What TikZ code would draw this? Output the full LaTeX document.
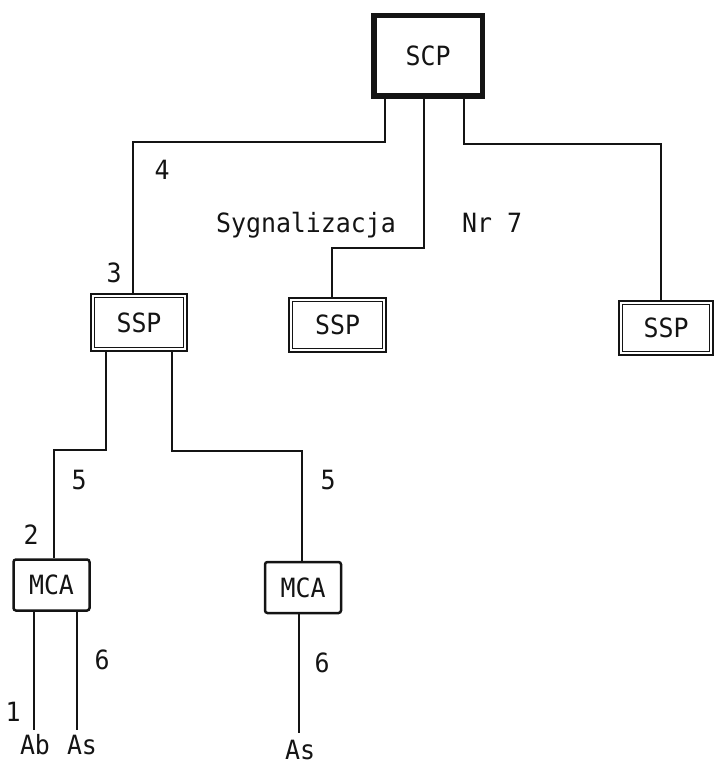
\documentclass[tikz,border=0pt]{standalone}
\usepackage{fontspec}
\setmonofont[FakeStretch=0.94]{DejaVu Sans Mono}
\usepackage{tikz}
\usetikzlibrary{positioning,calc}
\definecolor{mInk}{HTML}{141414}
\tikzset{
 unit/.style={draw=mInk, inner sep=0pt, font=\ttfamily\fontsize{26.5}{30}\selectfont, text=mInk},
 scpbox/.style={unit, line width=5.5pt, minimum width=108.5pt, minimum height=80.5pt},
 sspbox/.style={unit, double=white, line width=1.7pt, double distance=2pt, minimum width=92.6pt, minimum height=53.6pt},
 mcabox/.style={unit, line width=2.5pt, rounded corners=2.5pt, minimum width=76pt, minimum height=51pt},
 link/.style={draw=mInk, line width=2pt},
 tag/.style={inner sep=0pt, anchor=base, font=\ttfamily\fontsize{26.5}{30}\selectfont, text=mInk},
}
\newcommand{\tagnode}[3]{\node[tag] (#1) at (#2) {#3};}

\begin{document}
\begin{tikzpicture}[x=1pt,y=-1pt]
\useasboundingbox (0,0) rectangle (714,765);
\clip (0,0) rectangle (714,765);
% exchanges
\node[scpbox] (scp) at (428,56) {SCP};
\node[sspbox] (ssp1) at (139,322.5) {SSP};
\node[sspbox, minimum width=93.6pt, minimum height=50.6pt] (ssp2) at (337.5,325) {SSP};
\node[sspbox, minimum width=90.6pt, minimum height=50.6pt] (ssp3) at (666,328) {SSP};
\node[mcabox] (mca1) at (51.5,585) {MCA};
\node[mcabox] (mca2) at (303,587.5) {MCA};
% signalling links
\draw[link] ([xshift=-43pt]scp.south) -- ++(0,43) -| ([xshift=-6pt]ssp1.north);
\draw[link] ([xshift=-4pt]scp.south) -- ++(0,149) -| ([xshift=-5.5pt]ssp2.north);
\draw[link] ([xshift=36pt]scp.south) -- ++(0,45) -| ([xshift=-5pt]ssp3.north);
\draw[link] ([xshift=-33pt]ssp1.south) -- ++(0,100) -| ([xshift=2.5pt]mca1.north);
\draw[link] ([xshift=33pt]ssp1.south) -- ++(0,101) -| ([xshift=-1pt]mca2.north);
% subscriber lines
\coordinate (ab) at (34,730);
\coordinate (as1) at (77,730);
\coordinate (as2) at (299,733);
\draw[link] (mca1.south -| ab) -- (ab);
\draw[link] (mca1.south -| as1) -- (as1);
\draw[link] (mca2.south -| as2) -- (as2);
% labels
\tagnode{n4}{162,179}{4}
\tagnode{n3}{114,282}{3}
\tagnode{sig}{306,232}{Sygnalizacja}
\tagnode{nr}{492,232}{Nr 7}
\tagnode{n5a}{79,489}{5}
\tagnode{n5b}{328,489}{5}
\tagnode{n2}{31,544}{2}
\tagnode{n6a}{102,669}{6}
\tagnode{n6b}{322,672}{6}
\tagnode{n1}{13,721}{1}
\tagnode{tab}{35,754}{Ab}
\tagnode{tas1}{82,754}{As}
\tagnode{tas2}{300,759}{As}
\end{tikzpicture}
\end{document}
